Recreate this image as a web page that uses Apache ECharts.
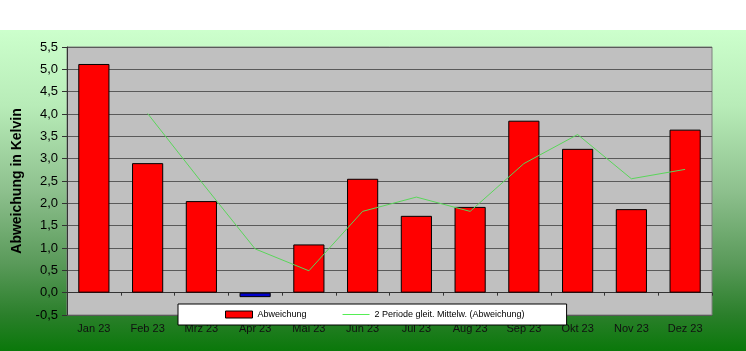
<!DOCTYPE html>
<html>
<head>
<meta charset="utf-8">
<script src="https://cdn.jsdelivr.net/npm/echarts@6/dist/echarts.min.js"></script>
<style>
  html, body { margin: 0; padding: 0; background: #fff; }
  #chart { width: 746px; height: 351px; }
</style>
</head>
<body>
<div id="chart"></div>
<script>
  var months = ['Jan 23', 'Feb 23', 'Mrz 23', 'Apr 23', 'Mai 23', 'Jun 23',
    'Jul 23', 'Aug 23', 'Sep 23', 'Okt 23', 'Nov 23', 'Dez 23'];
  var abweichung = [5.12, 2.9, 2.05, -0.1, 1.08, 2.55, 1.72, 1.92, 3.85, 3.22, 1.87, 3.65];
  // 2 Perioden gleitender Mittelwert
  var mittel = ['-', 4.01, 2.48, 0.98, 0.49, 1.82, 2.14, 1.82, 2.89, 3.54, 2.55, 2.76];

  var chart = echarts.init(document.getElementById('chart'));

  chart.setOption({
    animation: false,
    backgroundColor: new echarts.graphic.LinearGradient(0, 0, 0, 1, [
      {offset: 0, color: '#ffffff'},
      {offset: 0.085, color: '#ffffff'},
      {offset: 0.086, color: '#ccffcc'},
      {offset: 0.3, color: '#b8ecb8'},
      {offset: 0.55, color: '#8cbf8c'},
      {offset: 0.75, color: '#5a9a5a'},
      {offset: 0.9, color: '#2a7f2a'},
      {offset: 1, color: '#0a780a'}
    ]),
    textStyle: {
      fontFamily: 'Liberation Sans, Arial, sans-serif'
    },
    grid: {
      left: 67,
      top: 47,
      right: 34,
      bottom: 36,
      show: true,
      backgroundColor: '#c0c0c0',
      borderColor: '#808080',
      borderWidth: 1
    },
    legend: {
      left: 178,
      top: 304,
      padding: [6, 42, 6, 47],
      itemGap: 36,
      itemWidth: 27,
      itemHeight: 7,
      backgroundColor: '#ffffff',
      borderColor: '#000000',
      borderWidth: 1,
      textStyle: {
        fontSize: 9,
        color: '#000'
      },
      data: [
        {
          name: 'Abweichung',
          icon: 'rect',
          itemStyle: {color: '#ff0000', borderColor: '#000', borderWidth: 1}
        },
        {
          name: '2 Periode gleit. Mittelw. (Abweichung)',
          icon: 'path://M0,0H27V1H0Z',
          itemStyle: {color: '#55ee55', borderWidth: 0}
        }
      ]
    },
    xAxis: [
      {
        type: 'category',
        data: months,
        position: 'bottom',
        axisLine: {show: false, onZero: false},
        axisTick: {show: false},
        axisLabel: {
          fontSize: 11,
          color: '#111',
          margin: 8
        }
      },
      {
        type: 'category',
        data: months,
        position: 'bottom',
        axisLine: {
          show: true,
          onZero: true,
          lineStyle: {color: '#333', width: 1}
        },
        axisTick: {
          show: true,
          length: 3,
          lineStyle: {color: '#333'}
        },
        axisLabel: {show: false}
      }
    ],
    yAxis: {
      type: 'value',
      min: -0.5,
      max: 5.5,
      interval: 0.5,
      name: 'Abweichung in Kelvin',
      nameLocation: 'middle',
      nameGap: 43,
      nameTextStyle: {
        fontSize: 14,
        fontWeight: 'bold',
        color: '#000'
      },
      axisLine: {
        show: true,
        lineStyle: {color: '#333'}
      },
      axisTick: {
        show: true,
        length: 5,
        lineStyle: {color: '#333'}
      },
      axisLabel: {
        fontSize: 13,
        color: '#000',
        margin: 9,
        formatter: function (v) {
          return v.toFixed(1).replace('.', ',');
        }
      },
      splitLine: {
        lineStyle: {color: '#5a5a5a', width: 1.2}
      }
    },
    series: [
      {
        name: 'Abweichung',
        type: 'bar',
        xAxisIndex: 0,
        barCategoryGap: '42%',
        itemStyle: {
          color: function (p) {
            return p.value < 0 ? '#0000cc' : '#ff0000';
          },
          borderColor: '#000',
          borderWidth: 1
        },
        data: abweichung
      },
      {
        name: '2 Periode gleit. Mittelw. (Abweichung)',
        type: 'line',
        xAxisIndex: 0,
        symbol: 'none',
        z: 3,
        lineStyle: {color: '#5ad65a', width: 1},
        itemStyle: {color: '#5ad65a'},
        data: mittel
      }
    ]
  });
</script>
</body>
</html>
